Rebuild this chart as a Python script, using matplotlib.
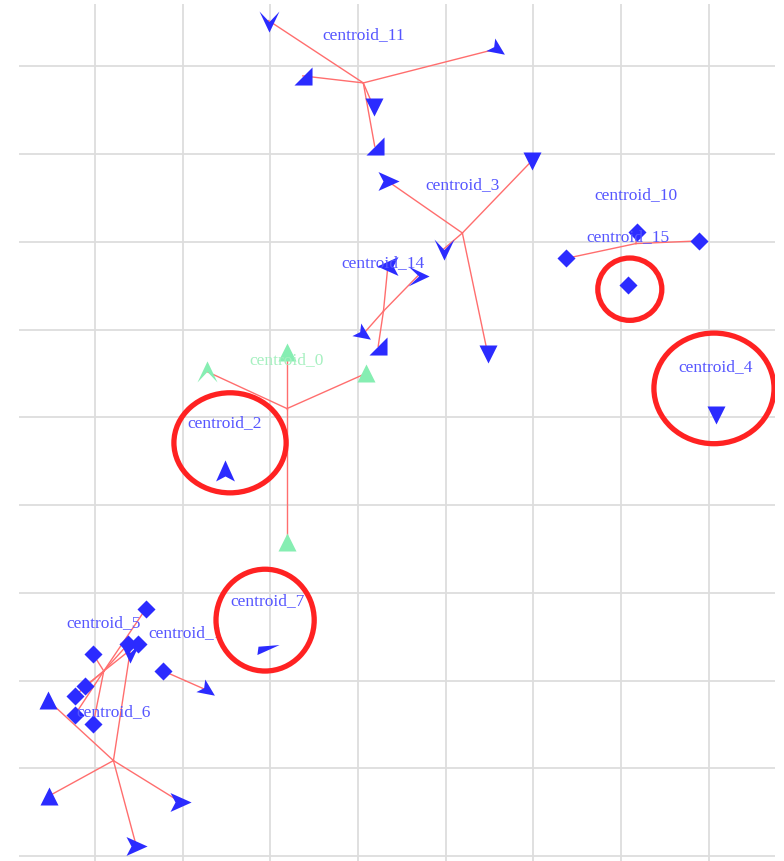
import numpy as np
import matplotlib.pyplot as plt
from matplotlib.patches import Ellipse

# cluster centroids (grid units)
centroid_ids = [0, 11, 3, 14, 10, 15, 4, 2, 7, 1, 5, 6]
centroid_x = [2.19, 3.06, 4.19, 3.29, 6.17, 6.08, 7.08, 1.48, 1.97, 1.03, 0.10, 0.21]
centroid_y = [5.10, 8.81, 7.10, 6.21, 6.98, 6.51, 5.03, 4.39, 2.36, 2.00, 2.11, 1.09]

# member points: position, owning cluster and marker shape
pt_x = [2.19, 1.28, 3.09, 2.19,
        1.98, 2.37, 3.18, 3.19, 4.59,
        3.34, 4.98, 3.98, 4.48,
        3.34, 3.68, 3.06, 3.23,
        5.37, 6.18, 6.89,
        6.08, 7.08, 1.48, 1.97,
        0.78, 1.28,
        0.58, -0.02, 0.38, 0.49, -0.11, -0.23, -0.23, -0.02,
        -0.54, -0.52, 0.97, 0.47, 0.40]
pt_y = [5.75, 5.52, 5.50, 3.58,
        9.52, 8.89, 8.53, 8.09, 9.20,
        7.69, 7.92, 6.92, 5.72,
        6.72, 6.61, 5.95, 5.81,
        6.81, 7.11, 7.01,
        6.51, 5.03, 4.39, 2.36,
        2.11, 1.89,
        2.82, 2.30, 2.42, 2.42, 1.94, 1.83, 1.61, 1.51,
        1.78, 0.69, 0.62, 0.12, 2.33]
pt_cluster = [0, 0, 0, 0,
              11, 11, 11, 11, 11,
              3, 3, 3, 3,
              14, 14, 14, 14,
              10, 10, 10,
              15, 4, 2, 7,
              1, 1,
              5, 5, 5, 5, 5, 5, 5, 5,
              6, 6, 6, 6, 6]
pt_shape = ['^', 'chev_u', '^', '^',
            'chev_d', 'rt', 'v', 'rt', 'arrow_dr',
            'arrow_r', 'v', 'chev_d', 'v',
            'arrow_l', 'chev_r', 'arrow_dr', 'rt',
            'D', 'D', 'D',
            'D', 'v', 'arrow_u', 'wedge',
            'D', 'arrow_dr',
            'D', 'D', 'D', 'D', 'D', 'D', 'D', 'D',
            '^', '^', 'arrow_r', 'arrow_r', 'chev_d']

# highlighted clusters
ring_x = [1.54, 1.94, 7.06, 6.10]
ring_y = [4.71, 2.69, 5.33, 6.46]
ring_w = [1.28, 1.12, 1.37, 0.73]
ring_h = [1.14, 1.16, 1.26, 0.71]


def rot(verts, deg):
    a = np.deg2rad(deg)
    r = np.array([[np.cos(a), -np.sin(a)], [np.sin(a), np.cos(a)]])
    return [tuple(v) for v in np.array(verts) @ r.T]


arrow = [(1, 0), (-0.9, 0.85), (-0.45, 0), (-0.9, -0.85)]
chev = [(1, 0), (-0.9, 0.9), (0.05, 0), (-0.9, -0.9)]
shapes = {
    '^': '^', 'v': 'v',
    'D': [(0, 1), (1, 0), (0, -1), (-1, 0)],
    'rt': [(1, -1), (1, 1), (-1, -1)],
    'arrow_r': rot(arrow, 0), 'arrow_l': rot(arrow, 180),
    'arrow_u': rot(arrow, 90), 'arrow_dr': rot(arrow, -35),
    'chev_d': rot(chev, -90), 'chev_u': rot(chev, 90), 'chev_r': rot(chev, 0),
    'wedge': [(-1, -0.5), (-0.9, 0.25), (1, 0.4)],
}
sizes = {'^': 13, 'v': 13, 'D': 13, 'rt': 13}

blue = '#2b2bff'
green = '#86eeb2'

fig = plt.figure(figsize=(7.84, 8.62), dpi=100)
ax = fig.add_axes([19 / 784, 0, 756 / 784, 857 / 862])
ax.set_xlim(-0.867, 7.756)
ax.set_ylim(-0.054, 9.709)
ax.set_xticks(range(0, 8))
ax.set_yticks(range(0, 10))
ax.tick_params(length=0, labelbottom=False, labelleft=False)
for s in ax.spines.values():
    s.set_visible(False)
ax.grid(color='#dddddd', lw=1.3)
ax.set_axisbelow(True)

cpos = {c: (x, y) for c, x, y in zip(centroid_ids, centroid_x, centroid_y)}

for x, y, c, sh in zip(pt_x, pt_y, pt_cluster, pt_shape):
    cx, cy = cpos[c]
    ax.plot([cx, x], [cy, y], color='#ff6e6e', lw=1, zorder=2)
    col = green if c == 0 else blue
    ax.plot(x, y, marker=shapes[sh], ms=sizes.get(sh, 16), color=col,
            mec='none', ls='none', zorder=3)

for c, x, y in zip(centroid_ids, centroid_x, centroid_y):
    col = '#a6f0c0' if c == 0 else '#5555ff'
    ax.annotate('centroid_%d' % c, (x, y), xytext=(0, 49), textcoords='offset pixels',
                ha='center', va='center', fontsize=12.5, color=col,
                family='Liberation Serif', zorder=4)

for x, y, w, h in zip(ring_x, ring_y, ring_w, ring_h):
    ax.add_patch(Ellipse((x, y), w, h, fill=False, ec='#ff2222', lw=3.8, zorder=5))

fig.savefig('out.png', dpi=100)
